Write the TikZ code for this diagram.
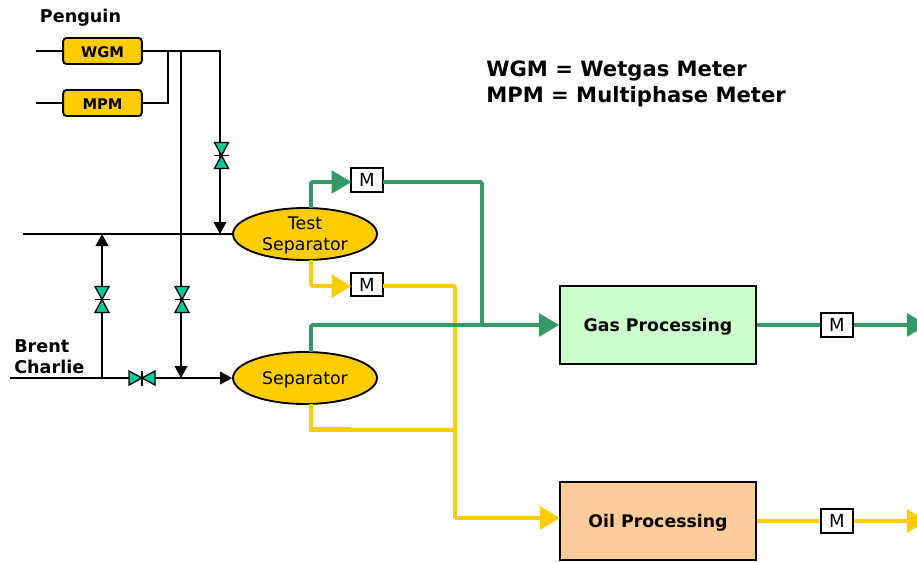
\documentclass[tikz,border=0pt]{standalone}
\usepackage{fontspec}
\setmainfont{DejaVu Sans}
\usepackage{tikz}
\usetikzlibrary{arrows.meta,shapes.geometric}
\definecolor{gasgreen}{RGB}{51,153,102}
\definecolor{oilyellow}{RGB}{255,204,0}
\definecolor{valvegreen}{RGB}{0,204,153}
\definecolor{gasfill}{RGB}{204,255,204}
\definecolor{oilfill}{RGB}{255,204,153}
\tikzset{
    pipe/.style={line width=1.3pt, black},
    pipearrow/.style={pipe, -{Triangle[length=9pt,width=9.5pt]}},
    gasline/.style={line width=2.7pt, gasgreen},
    gasarrow/.style={gasline, -{Triangle[length=15pt,width=17pt]}},
    oilline/.style={line width=2.7pt, oilyellow},
    oilarrow/.style={oilline, -{Triangle[length=15pt,width=17pt]}},
    meterbox/.style={draw, line width=1.4pt, rounded corners=2.5pt, fill=oilyellow, minimum width=59pt, minimum height=19.5pt, inner sep=0pt, text height=10pt, text depth=0pt, font=\bfseries\fontsize{11}{13}\selectfont},
    sepnode/.style={draw, line width=1.4pt, ellipse, fill=oilyellow, minimum width=108pt, minimum height=39pt, inner sep=0pt, align=center, text depth=0pt, font=\fontsize{13}{15.75}\selectfont},
    mbox/.style={draw, line width=1.4pt, fill=white, minimum width=24pt, minimum height=17.5pt, inner sep=0pt, text height=9.8pt, text depth=0pt, font=\fontsize{13.5}{15}\selectfont},
    procbox/.style={draw, line width=1.4pt, minimum width=147pt, minimum height=58.5pt, inner sep=0pt, text height=9.5pt, text depth=0pt, font=\bfseries\fontsize{13}{15}\selectfont},
    titletext/.style={font=\bfseries\fontsize{13.2}{15.75}\selectfont, align=left, inner sep=0pt},
    valve/.pic={
        \draw[line width=1pt, fill=valvegreen] (-7,-13) -- (7,-13) -- (0,0) -- cycle;
        \draw[line width=1pt, fill=valvegreen] (-7,13) -- (7,13) -- (0,0) -- cycle;
        \draw[line width=1pt] (-7.5,0) -- (7.5,0);
    }
}
\begin{document}
\begin{tikzpicture}[x=0.75pt, y=-0.75pt]
\useasboundingbox (0,0) rectangle (917,563);

% Meters and vessels
\node[meterbox] (wgm) at (102.5,51) {WGM};
\node[meterbox] (mpm) at (102.5,103) {MPM};
\node[sepnode] (testsep) at (305,234) {Test\\Separator};
\node[sepnode] (sep) at (305,378) {Separator};
\node[procbox, fill=gasfill] (gas) at (658,325) {Gas Processing};
\node[procbox, fill=oilfill] (oil) at (658,521) {Oil Processing};

% Flow meters
\node[mbox] (mtest) at (367,180) {M};
\node[mbox] (moil) at (367,284.5) {M};
\node[mbox] (mgas) at (837,325) {M};
\node[mbox] (mout) at (837,521) {M};

% Labels
\node[titletext] (penguin) at (80.5,18) {Penguin};
\node[titletext, anchor=west] (brent) at (14,357) {Brent\\Charlie};
\node[font=\bfseries\fontsize{15.85}{19.5}\selectfont, align=left, anchor=west, inner sep=0pt] (legend) at (486,83.5) {WGM = Wetgas Meter\\MPM = Multiphase Meter};

% Free ends and junctions
\coordinate (wgmin) at (36,51);
\coordinate (mpmin) at (36,103);
\coordinate (testin) at (23,234);
\coordinate (brentin) at (10,378);
\coordinate (gasout) at (927,325);
\coordinate (oilout) at (927,521);
\coordinate (headB) at (181,51);
\coordinate (headC) at (168,51);
\coordinate (testdrop) at (220,234);
\coordinate (testrise) at (102,234);
\coordinate (brentrise) at (102,378);
\coordinate (brentdrop) at (181,378);
\coordinate (testgas) at (311,208);
\coordinate (testoil) at (311,260);
\coordinate (sepgas) at (311,352);
\coordinate (sepoil) at (311,404);
\coordinate (mtestin) at (351.5,182);
\coordinate (mtestout) at (383,182);
\coordinate (moilin) at (351.5,286);
\coordinate (moilout) at (383,286);
\coordinate (gasjoin) at (482,325);
\coordinate (oilbend) at (455,430);
\coordinate (oilstub) at (351,429);
\coordinate (oilcorner) at (455,518);
\coordinate (oilentry) at (560,518);

% Black pipework
\draw[pipe] (wgmin) -- (wgm);
\draw[pipe] (mpmin) -- (mpm);
\draw[pipe] (mpm.east) -| (headC);
\draw[pipearrow] (wgm.east) -| (testdrop);
\draw[pipe] (testin) -- (testsep);
\draw[pipearrow] (headB) -- (brentdrop);
\draw[pipearrow] (brentrise) -- (testrise);
\draw[pipearrow] (brentin) -- (sep);

% Valves
\pic at (221.5,155.5) {valve};
\pic at (182,299.5) {valve};
\pic at (102,299.5) {valve};
\pic[rotate=90] at (142,378) {valve};

% Gas lines
\draw[gasarrow, rounded corners=1pt] (testgas) |- (mtestin);
\draw[gasline, rounded corners=1pt] (mtestout) -| (gasjoin);
\draw[oilarrow, rounded corners=1pt] (testoil) |- (moilin);
\draw[oilline, rounded corners=1pt] (moilout) -| (oilcorner);
\draw[gasarrow, rounded corners=1pt] (sepgas) |- (gas.west);
\draw[gasline] (gas) -- (mgas);
\draw[gasarrow] (mgas) -- (gasout);

% Oil lines
\draw[oilline] (sepoil) |- (oilbend);
\draw[oilline] (oilstub -| sepoil) -- (oilstub);
\draw[oilarrow] (oilcorner) -- (oilentry);
\draw[oilline] (oil) -- (mout);
\draw[oilarrow] (mout) -- (oilout);
\end{tikzpicture}
\end{document}
